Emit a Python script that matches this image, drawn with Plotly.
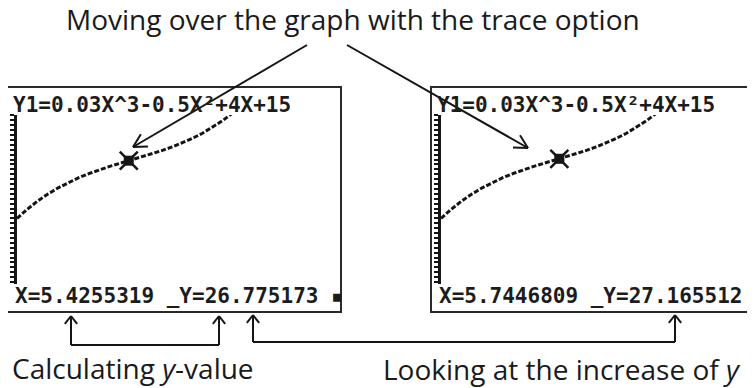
import math
import plotly.graph_objects as go

# the page puts the figure 8px in from the top-left corner
PAGE_PAD = 8
W, H = 755 - PAGE_PAD, 388 - PAGE_PAD

# points on Y1
curve_x = [0, 0.5, 1, 1.5, 2, 2.5, 3, 3.5, 4, 4.5, 5, 5.5, 6, 6.5, 7, 7.5, 8, 8.5, 9, 9.5, 10, 10.5, 11]
curve_y = [15, 16.88, 18.53, 19.98, 21.24, 22.34, 23.31, 24.16, 24.92, 25.61, 26.25, 26.87, 27.48,
           28.11, 28.79, 29.53, 30.36, 31.30, 32.37, 33.60, 35.0, 36.61, 38.43]

# trace cursor positions (left screen, right screen)
trace_x = [5.4255319, 5.7446809]
trace_y = [26.775173, 27.165512]

func_label = "Y1=0.03X^3-0.5X²+4X+15"
title_text = "Moving over the graph with the trace option"
label_left = "Calculating <i>y</i>-value"
label_right = "Looking at the increase of <i>y</i>"

INK = "#151515"
SCREEN_FONT = dict(family="DejaVu Sans Mono", size=21, color="#1c1c1c", weight="bold")
LABEL_FONT = dict(family="Open Sans", size=28, color="#1a1a1a")
PX_PER_X = 20.6


def px(x):
    return (x - PAGE_PAD) / W


def py(y):
    return 1 - (y - PAGE_PAD) / H


fig = go.Figure()
shapes = []
annotations = []


def seg(x0, y0, x1, y1, width=2):
    shapes.append(dict(type="line", xref="paper", yref="paper",
                       x0=px(x0), y0=py(y0), x1=px(x1), y1=py(y1),
                       line=dict(color=INK, width=width)))


def arrow(x0, y0, x1, y1, head=13, spread=32, width=2):
    seg(x0, y0, x1, y1, width)
    ang = math.atan2(y1 - y0, x1 - x0)
    for s in (-1, 1):
        a = ang + math.pi + s * math.radians(spread)
        seg(x1, y1, x1 + head * math.cos(a), y1 + head * math.sin(a), width)


# two calculator screens, the second shifted right
offsets = [0, 424]
for i, off in enumerate(offsets):
    n = "" if i == 0 else str(i + 1)
    # box of the screen
    shapes.append(dict(type="rect", xref="paper", yref="paper",
                       x0=px(7 + off), x1=px(341 + off), y0=py(312), y1=py(87),
                       line=dict(color="#2a2a2a", width=2)))
    left = 17 + off
    right = min(339 + off, 755)
    xa = dict(domain=[px(left), min(px(right), 1)], range=[0, (min(right, 755) - left) / PX_PER_X],
              showgrid=False, zeroline=False, showticklabels=False, showline=False, ticks="",
              anchor="y" + n)
    ya = dict(domain=[py(284), py(115)], range=[1.61, 36.1],
              showgrid=False, zeroline=False, showticklabels=False,
              showline=True, linecolor=INK, linewidth=3,
              ticks="outside", tick0=0, dtick=1, ticklen=4, tickwidth=2, tickcolor=INK,
              anchor="x" + n)
    fig.update_layout(**{"xaxis" + n: xa, "yaxis" + n: ya})

    fig.add_trace(go.Scatter(x=curve_x, y=curve_y, mode="lines", xaxis="x" + n, yaxis="y" + n,
                             line=dict(color=INK, width=3, dash="5px,2px"), showlegend=False))
    fig.add_trace(go.Scatter(x=[trace_x[i]], y=[trace_y[i]], mode="markers", xaxis="x" + n, yaxis="y" + n,
                             marker=dict(symbol="x-thin", size=18, line=dict(color=INK, width=2.5)),
                             showlegend=False))
    fig.add_trace(go.Scatter(x=[trace_x[i]], y=[trace_y[i]], mode="markers", xaxis="x" + n, yaxis="y" + n,
                             marker=dict(symbol="square", size=10, color=INK), showlegend=False))

    annotations.append(dict(xref="paper", yref="paper", x=px(11 + off), y=py(105),
                            xanchor="left", yanchor="middle", showarrow=False,
                            text=func_label, font=SCREEN_FONT))
    annotations.append(dict(xref="paper", yref="paper", x=px(13 + off), y=py(296),
                            xanchor="left", yanchor="middle", showarrow=False,
                            text=f"X={trace_x[i]:.7f} _Y={trace_y[i]:.6f} ▪", font=SCREEN_FONT))

# arrows from the title to the cursors
arrow(307, 45, 133, 147, head=15, spread=28)
arrow(347, 45, 528, 148, head=15, spread=28)

# brackets under the screens
arrow(71, 345, 71, 316, head=10, spread=38)
arrow(219, 345, 219, 316, head=10, spread=38)
seg(71, 345, 219, 345)
arrow(253, 342, 253, 315, head=10, spread=38)
arrow(675, 342, 675, 315, head=10, spread=38)
seg(253, 342, 675, 342)

annotations.append(dict(xref="paper", yref="paper", x=px(353), y=py(19), xanchor="center",
                        yanchor="middle", showarrow=False, text=title_text, font=LABEL_FONT))
annotations.append(dict(xref="paper", yref="paper", x=px(10), y=py(368), xanchor="left",
                        yanchor="middle", showarrow=False, text=label_left, font=LABEL_FONT))
annotations.append(dict(xref="paper", yref="paper", x=px(381), y=py(369), xanchor="left",
                        yanchor="middle", showarrow=False, text=label_right, font=LABEL_FONT))

fig.update_layout(
    width=W, height=H,
    margin=dict(l=0, r=0, t=0, b=0),
    paper_bgcolor="white", plot_bgcolor="white",
    shapes=shapes, annotations=annotations,
    showlegend=False,
)

fig.write_html("out.html")
